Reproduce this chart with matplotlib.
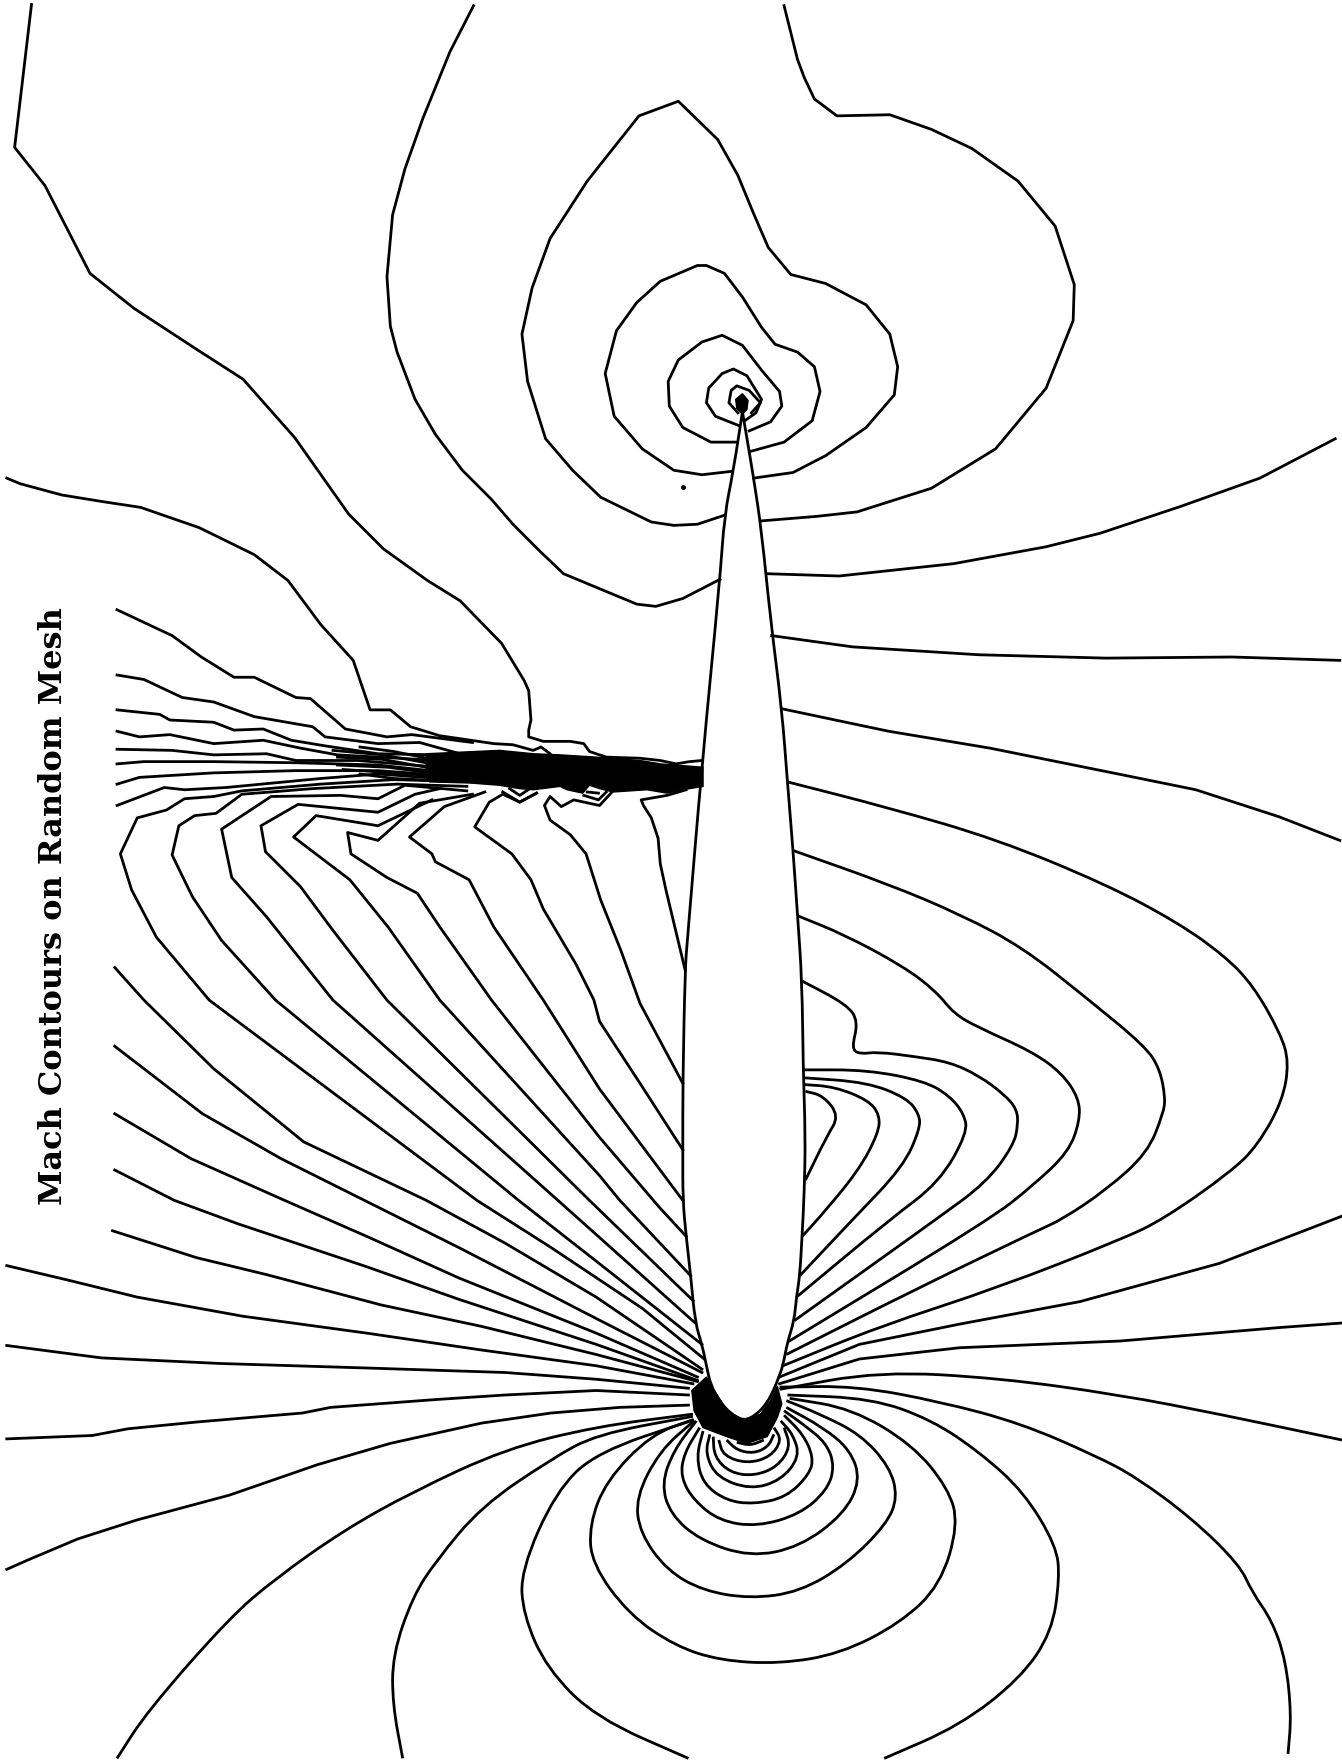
import matplotlib
matplotlib.use('Agg')
import matplotlib.pyplot as plt
from matplotlib.patches import Polygon, PathPatch
from matplotlib.path import Path

# every contour is a list of (x, y)
title = 'Mach Contours on Random Mesh'

airfoil = [(660,366),(670,425),(677,472),(685,551),(695,630),(700,695),(705,756),(709,814),(713,872),(714,951),
           (716,1010),(715,1060),(713,1099),(711,1134),(708,1153),(706,1174),(700,1193),(696,1214),(692,1225),
           (688,1235),(682,1247),(672,1258),(661,1263),(650,1257),(640,1246),(632,1232),(628,1214),(624,1195),(618,1176),(614,1134),
           (610,1099),(607,1067),(607,1022),(607,963),(609,862),(611,836),(624,680),(640,515),(644,458),(652,418),(660,366)]

# upper surface loops
top_a = [(28,4),(13,131),(40,165),(80,243),(119,274),(174,310),(216,337),(262,389),(310,457),(341,488),(380,516),
         (409,534),(446,572),(466,605),(470,614),(472,640),(470,649),(470,655),(483,659),(507,659),(519,661),(524,668),
         (539,673),(569,674),(587,676),(601,679),(613,677),(624,676)]
top_b = [(6,425),(18,430),(55,440),(92,446),(125,451),(177,469),(226,493),(256,516),(285,555),(314,587),(329,631),
         (347,631),(365,646),(391,654),(439,661),(456,662),(474,667),(481,664),(489,670)]
top_c = [(421,5),(400,46),(376,105),(360,150),(349,191),(344,246),(347,290),(353,313),(369,355),(387,386),(411,418),
         (437,444),(456,466),(480,490),(501,510),(566,537),(583,539),(607,532),(640,515)]
top_c_right = [(683,510),(746,512),(848,501),(930,486),(978,474),(1050,450),(1120,425),(1187,390)]
top_d = [(697,5),(709,53),(715,69),(724,88),(744,103),(791,102),(828,115),(864,132),(905,161),(938,201),(955,253),
         (954,285),(930,345),(885,399),(828,434),(762,455),(726,459),(677,463)]
top_e = [(644,458),(620,466),(599,467),(579,464),(534,442),(509,418),(485,390),(469,339),(464,297),(473,256),(489,212),
         (522,161),(568,103),(603,90),(638,124),(656,156),(670,190),(683,220),(703,244),(734,252),(770,271),(791,297),
         (798,326),(795,351),(770,380),(734,405),(705,420),(670,425)]
top_f = [(650,419),(624,422),(599,418),(571,399),(546,370),(538,332),(548,294),(566,269),(587,250),(620,236),(628,236),
         (644,243),(660,264),(677,291),(689,306),(709,313),(724,326),(729,348),(722,374),(697,393),(668,401)]
top_g = [(654,393),(632,393),(607,380),(595,361),(594,339),(603,320),(624,304),(642,298),(660,307),(677,329),(693,348),
         (695,361),(685,375),(666,383)]
top_h = [(656,378),(636,370),(628,358),(630,345),(642,332),(652,328),(664,334),(677,355),(672,367),(662,374)]
top_i = [(656,367),(648,358),(650,347),(655,343),(666,347),(676,358),(668,367)]
nose_blob = [(660,350),(665,356),(664,364),(660,368),(655,363),(654,355)]
speck = [(607,433)]

# shock, left of the airfoil
shock_1 = [(104,542),(153,565),(179,584),(208,602),(226,602),(263,620),(276,621),(307,648),(344,655),(366,653),(420,660)]
shock_2 = [(104,600),(128,604),(162,620),(190,624),(226,637),(278,646),(289,655),(336,661),(373,660),(409,670)]
shock_3 = [(104,631),(142,635),(151,640),(190,642),(208,649),(234,648),(259,658),(289,663),(336,670),(391,671)]
shock_4 = [(104,650),(124,655),(151,653),(190,661),(234,658),(267,665),(300,671),(391,676)]
shock_5 = [(104,666),(153,667),(190,671),(237,670),(263,676),(318,676),(391,682)]
shock_6 = [(104,679),(128,677),(190,677),(263,678),(336,680),(391,686)]
shock_7 = [(104,697),(124,691),(190,687),(263,685),(336,685),(391,689)]
shock_8 = [(104,716),(146,700),(164,702),(201,700),(285,692),(336,688),(391,692)]
cluster_1 = [(296,667),(340,671),(390,680)]
cluster_2 = [(300,673),(340,675),(390,684)]
cluster_3 = [(300,680),(345,682),(390,688)]
cluster_4 = [(305,684),(350,687),(390,690)]
cluster_5 = [(320,688),(350,692),(390,694)]
cluster_6 = [(320,664),(350,668),(390,676)]
shock_band = [(379,670),(444,667),(474,670),(498,671),(530,673),(569,676),(587,679),(625,682),(625,699),(607,702),(593,705),
              (575,702),(545,704),(533,701),(524,698),(518,705),(504,702),(498,699),(474,702),(462,701),(444,698),(418,696),
              (382,695),(379,690)]
chevron_1 = [(447,704),(462,713),(477,705)]
chevron_2 = [(453,701),(462,707),(471,701)]
chevron_3 = [(519,707),(532,711),(539,704)]
chevron_4 = [(522,704),(532,705)]

# lobes below the shock, running down to the airfoil
lobe_1 = [(420,695),(350,693),(285,697),(215,703),(190,708),(164,710),(148,720),(122,727),(107,759),(117,791),(139,833),
          (186,889),(424,1067),(490,1109),(571,1163),(626,1208)]
lobe_2 = [(415,699),(353,697),(278,701),(215,706),(192,723),(173,725),(159,734),(153,760),(171,797),(197,836),(245,889),(461,1067),
          (530,1121),(624,1195)]
lobe_3 = [(415,703),(360,698),(336,710),(303,707),(241,708),(197,737),(206,780),(237,815),(296,889),(496,1067),(618,1176)]
lobe_4 = [(391,701),(369,706),(336,722),(265,715),(232,734),(236,757),(267,788),(296,827),(344,889),(524,1067),(616,1156)]
lobe_5 = [(384,711),(336,734),(281,725),(261,744),(311,782),(345,824),(391,889),(533,1045),(551,1067),(614,1134)]
lobe_6 = [(420,706),(373,714),(336,747),(309,740),(312,759),(344,780),(371,794),(391,824),(437,889),(533,1011),(586,1073),(610,1099)]
lobe_7 = [(431,704),(395,717),(364,744),(384,759),(387,766),(417,782),(439,824),(483,889),(533,968),(607,1067)]
lobe_8 = [(477,705),(462,713),(447,706),(435,713),(422,735),(455,759),(472,782),(483,808),(512,857),(528,889),(533,908),
          (569,963),(607,1022)]
lobe_9 = [(544,704),(533,716),(510,711),(499,717),(489,708),(484,716),(489,729),(507,742),(521,759),(534,800),(552,845),
          (569,892),(607,963)]
lobe_10 = [(610,702),(593,707),(570,711),(572,716),(579,727),(585,745),(587,768),(592,791),(609,862)]

# left fan
fan_1 = [(6,1395),(24,1387),(69,1368),(122,1351),(204,1329),(282,1302),(347,1283),(428,1265),(490,1256),(551,1251),(612,1249)]
fan_2 = [(6,1279),(82,1276),(114,1270),(175,1264),(269,1256),(294,1251),(388,1244),(449,1240),(530,1236),(612,1240)]
fan_3 = [(6,1196),(90,1207),(196,1212),(326,1216),(449,1220),(530,1226),(612,1234)]
fan_4 = [(6,1125),(61,1138),(122,1153),(216,1170),(326,1185),(428,1200),(530,1214),(616,1230)]
fan_5 = [(100,1094),(175,1118),(237,1133),(339,1160),(428,1179),(530,1204),(620,1228)]
fan_6 = [(102,1040),(155,1067),(212,1088),(326,1126),(408,1155),(530,1195),(620,1227)]
fan_7 = [(102,990),(170,1030),(253,1067),(326,1099),(408,1136),(530,1185),(620,1224)]
fan_8 = [(102,930),(180,990),(250,1030),(324,1067),(408,1109),(530,1172),(624,1220)]
fan_9 = [(102,860),(128,889),(190,950),(270,1015),(379,1067),(449,1105),(530,1153),(624,1217)]

# right side, far field
right_1 = [(686,565),(693,566),(758,575),(870,582),(983,585),(1095,584),(1191,587)]
right_2 = [(695,630),(790,650),(880,665),(999,689),(1063,702),(1137,726),(1191,747)]
right_3 = [(700,695),(790,718),(886,746),(983,786),(1047,820),(1089,850),(1114,876),(1138,918),(1146,944),(1140,979),
           (1118,1018),(1095,1041),(1034,1084),(996,1102),(889,1144),(782,1179),(696,1214)]
right_4 = [(705,756),(790,786),(854,813),(909,842),(967,888),(1018,930),(1031,950),(1036,976),(1034,990),(1020,1025),
           (983,1058),(944,1084),(924,1093),(818,1144),(699,1204)]
right_5 = [(709,814),(751,831),(803,859),(832,881),(848,901),(869,913),(918,935),(944,954),(959,976),(960,996),(950,1024),
           (918,1054),(880,1084),(700,1193)]
right_6 = [(713,872),(753,893),(763,908),(757,932),(764,937),(780,935),(812,939),(844,944),(870,956),(893,973),(904,986),
           (905,1000),(901,1018),(877,1051),(832,1084),(706,1174)]
right_7 = [(714,951),(771,951),(822,961),(844,974),(857,990),(860,1007),(835,1051),(791,1084),(708,1153)]
right_8 = [(714,958),(771,962),(806,976),(817,990),(818,1003),(803,1037),(758,1084),(711,1134)]
right_9 = [(714,964),(742,966),(772,978),(782,991),(781,1007),(763,1041),(727,1084),(713,1099)]
right_10 = [(716,970),(732,974),(746,992),(735,1010),(716,1049)]
right_11 = [(1193,1081),(1084,1123),(960,1157),(853,1177),(764,1195),(693,1224)]
right_12 = [(1193,1176),(1138,1180),(996,1192),(853,1198),(764,1208),(693,1230)]
right_13 = [(1193,1280),(1084,1257),(996,1240),(889,1225),(782,1219),(693,1235)]

# around the leading edge, bottom of the picture
big_1 = [(104,1563),(131,1521),(204,1438),(245,1403),(306,1360),(367,1326),(449,1288),(530,1268),(616,1257)]
big_2 = [(358,1563),(349,1515),(349,1471),(367,1419),(388,1387),(428,1339),(490,1297),(530,1275),(616,1259)]
big_2_right = [(693,1233),(761,1232),(836,1246),(907,1265),(974,1294),(1010,1313),(1060,1350),(1102,1391),(1113,1415),
               (1131,1441),(1143,1476),(1148,1524),(1145,1559)]
big_3 = [(612,1563),(530,1527),(486,1483),(465,1435),(463,1396),(494,1326),(530,1291),(617,1262)]
big_3_right = [(786,1563),(853,1534),(907,1492),(935,1451),(942,1403),(939,1374),(910,1326),(871,1291),(828,1262),(775,1243),(700,1240)]
big_4 = [(616,1262),(579,1275),(539,1316),(524,1355),(526,1390),(559,1435),(600,1463),(640,1476),(693,1479),(747,1470),
         (800,1443),(836,1409),(852,1355),(843,1323),(811,1284),(757,1252),(702,1243)]
ring_1 = [(617,1263),(587,1289),(565,1331),(569,1363),(593,1396),(625,1414),(667,1421),(711,1415),(753,1390),(788,1355),
          (798,1331),(791,1304),(765,1275),(729,1257),(699,1245)]
ring_2 = [(619,1263),(599,1289),(588,1319),(596,1346),(622,1369),(667,1384),(711,1375),(750,1346),(765,1316),(756,1289),(732,1269),(699,1251)]
ring_3 = [(622,1269),(608,1292),(605,1313),(617,1334),(640,1352),(673,1357),(711,1346),(735,1325),(742,1304),(735,1283),(714,1266),(697,1254)]
ring_4 = [(625,1272),(619,1295),(625,1319),(646,1334),(670,1337),(699,1331),(720,1310),(723,1295),(714,1275),(697,1258)]
ring_5 = [(631,1275),(627,1292),(637,1313),(667,1324),(694,1316),(711,1295),(705,1275),(694,1263)]
ring_6 = [(634,1277),(635,1295),(649,1309),(670,1312),(691,1304),(703,1286),(697,1269)]
ring_7 = [(639,1280),(643,1294),(664,1301),(685,1295),(695,1280),(688,1269)]
ring_8 = [(646,1280),(655,1289),(670,1292),(683,1286),(688,1275)]
ring_9 = [(655,1282),(667,1285),(679,1280)]
nose_band = [(615,1236),(617,1254),(625,1269),(646,1277),(664,1283),(682,1277),(691,1260),(695,1248),(691,1232),(685,1245),
             (676,1257),(661,1262),(646,1254),(637,1239),(628,1224)]

# faceted lines keep their corners, the rest are rounded when drawn
straight = [top_a, top_b, top_c, top_c_right, top_d, top_e, top_f, top_g, top_h, top_i,
            shock_1, shock_2, shock_3, shock_4, shock_5, shock_6, shock_7, shock_8,
            cluster_1, cluster_2, cluster_3, cluster_4, cluster_5, cluster_6,
            chevron_1, chevron_2, chevron_3, chevron_4,
            lobe_1, lobe_2, lobe_3, lobe_4, lobe_5, lobe_6, lobe_7, lobe_8, lobe_9, lobe_10,
            fan_1, fan_2, fan_3, fan_4, fan_5, fan_6, fan_7, fan_8, fan_9,
            right_1, right_2, right_11, right_12]
rounded = [airfoil, right_3, right_4, right_5, right_6, right_7, right_8, right_9, right_10, right_13,
           big_1, big_2, big_2_right, big_3, big_3_right, big_4,
           ring_1, ring_2, ring_3, ring_4, ring_5, ring_6, ring_7, ring_8, ring_9]
filled = [shock_band, nose_band, nose_blob]


def rounded_path(line):
    verts = [line[0]]
    codes = [Path.MOVETO]
    for i in range(1, len(line) - 1):
        x0, y0 = line[i - 1]
        x1, y1 = line[i]
        x2, y2 = line[i + 1]
        if i == 1:
            verts.append(((x0 + x1) / 2, (y0 + y1) / 2))
            codes.append(Path.LINETO)
        verts += [(x1, y1), ((x1 + x2) / 2, (y1 + y2) / 2)]
        codes += [Path.CURVE3, Path.CURVE3]
    verts.append(line[-1])
    codes.append(Path.LINETO)
    return Path(verts, codes)


fig = plt.figure(figsize=(13.42, 17.64), dpi=100)
ax = fig.add_axes([0, 0, 1, 1])
ax.set_xlim(0, 1193)
ax.set_ylim(1568, 0)
ax.axis('off')

for line in straight:
    xs, ys = zip(*line)
    ax.plot(xs, ys, color='black', lw=2.0, solid_joinstyle='round')

for line in rounded:
    ax.add_patch(PathPatch(rounded_path(line), facecolor='none', edgecolor='black', lw=2.0))

for shape in filled:
    ax.add_patch(Polygon(shape, closed=True, facecolor='black', edgecolor='black', lw=1))

ax.plot(*zip(*speck), marker='o', ms=2.5, color='black', ls='none')

ax.text(48, 805, title, rotation=90, ha='center', va='center', fontsize=23,
        family='DejaVu Serif', fontweight='bold', color='black')

fig.savefig('out.png', dpi=100, facecolor='white')
